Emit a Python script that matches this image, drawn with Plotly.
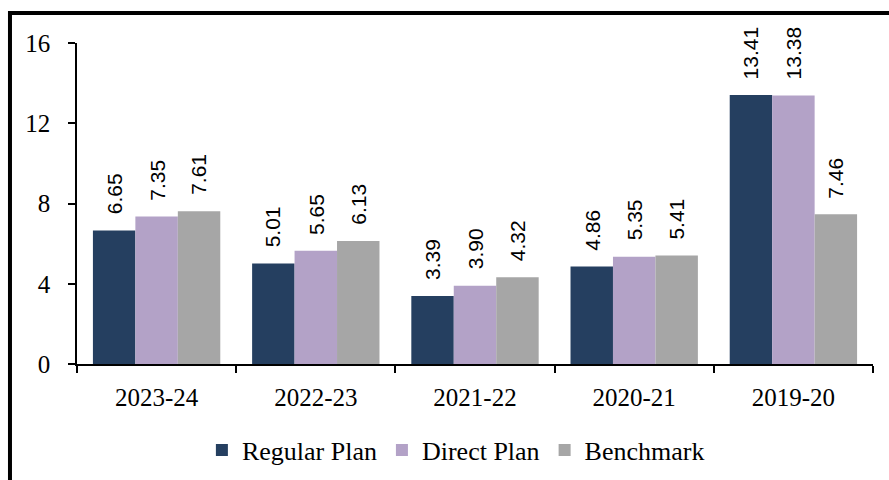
import plotly.graph_objects as go

categories = ["2023-24", "2022-23", "2021-22", "2020-21", "2019-20"]
regular_plan = [6.65, 5.01, 3.39, 4.86, 13.41]
direct_plan = [7.35, 5.65, 3.90, 5.35, 13.38]
benchmark = [7.61, 6.13, 4.32, 5.41, 7.46]
series_names = ["Regular Plan", "Direct Plan", "Benchmark"]
y_ticks = [0, 4, 8, 12, 16]

colors = ["#253F60", "#B3A2C7", "#A6A6A6"]
serif = "Liberation Serif, Times New Roman, serif"
sans = "Liberation Sans, Arial, sans-serif"

fig = go.Figure()
all_series = [regular_plan, direct_plan, benchmark]
for name, vals, col in zip(series_names, all_series, colors):
    fig.add_trace(go.Bar(x=categories, y=vals, name=name,
                         marker=dict(color=col, line=dict(width=0))))

bargap = 0.2
bw = (1 - bargap) / 3
annotations = []
for k, vals in enumerate(all_series):
    off = (k - 1) * bw
    for i, v in enumerate(vals):
        annotations.append(dict(
            x=i + off, y=v, xref="x", yref="y", text=f"{v:.2f}",
            showarrow=False, textangle=-90, xanchor="center", yanchor="bottom",
            yshift=14, font=dict(family=sans, size=21, color="#000000")))

fig.update_layout(
    width=889, height=480,
    margin=dict(l=77, r=16, t=43, b=116, autoexpand=False),
    paper_bgcolor="white", plot_bgcolor="white",
    barmode="group", bargap=bargap, bargroupgap=0,
    font=dict(family=serif, size=25, color="#000000"),
    showlegend=True,
    legend=dict(orientation="h", x=0.476, xanchor="center",
                yref="container", y=0.0625, yanchor="middle",
                font=dict(family=serif, size=26, color="#000000"),
                itemsizing="constant", traceorder="normal"),
    annotations=annotations,
    shapes=[dict(type="rect", xref="paper", yref="paper",
                 x0=-0.0842, x1=1.2, y0=-0.6, y1=1.0935,
                 line=dict(color="black", width=4), fillcolor="rgba(0,0,0,0)", layer="above")],
)
fig.update_xaxes(type="category", showline=True, linecolor="black", linewidth=2,
                 ticks="outside", tickson="boundaries", ticklen=7, tickwidth=1.5,
                 tickcolor="black", showgrid=False, ticklabelstandoff=10,
                 tickfont=dict(family=serif, size=25, color="#000000"))
fig.update_yaxes(range=[0, 16], tickvals=y_ticks, showline=True, linecolor="black",
                 linewidth=1.5, ticks="outside", ticklen=7, tickwidth=1.5, tickcolor="black",
                 showgrid=False, zeroline=False, ticklabelstandoff=13,
                 tickfont=dict(family=serif, size=25, color="#000000"))

fig.write_html("out.html", config={"displayModeBar": False},
               post_script="document.body.style.margin='0';")
